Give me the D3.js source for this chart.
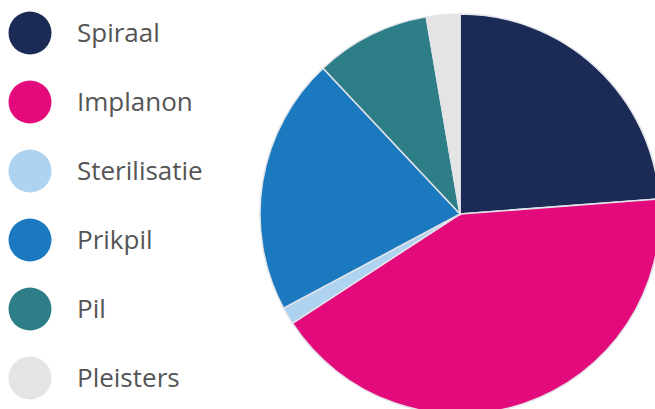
<!DOCTYPE html>
<html>
<head>
<meta charset="utf-8">
<script src="https://cdn.jsdelivr.net/npm/d3@7"></script>
<style>
  body { margin: 0; background: #fff; }
  svg { display: block; }
</style>
</head>
<body>
<svg width="655" height="409"></svg>
<script>
// methods and share (%)
var labels = ["Spiraal", "Implanon", "Sterilisatie", "Prikpil", "Pil", "Pleisters"];
var values = [23.8, 42.0, 1.4, 20.8, 9.3, 2.7];
var colors = ["#1b2b55", "#e30a7c", "#aed3f0", "#1a79bf", "#2e7e88", "#e4e4e4"];

var svg = d3.select("svg");

var color = d3.scaleOrdinal().domain(labels).range(colors);

var pie = d3.pie().sort(null).value(function (d) { return d.value; });
var arc = d3.arc().innerRadius(0).outerRadius(200);

var data = labels.map(function (l, i) { return { label: l, value: values[i] }; });

var g = svg.append("g")
  .attr("transform", "translate(460,214)");

g.selectAll("path")
  .data(pie(data))
  .enter()
  .append("path")
  .attr("d", arc)
  .style("fill", function (d) { return color(d.data.label); })
  .style("stroke", "#e2e4ea")
  .style("stroke-width", 1.5);

// legend
var y = d3.scalePoint().domain(labels).range([33, 378]);

var legend = svg.append("g");

legend.selectAll("circle")
  .data(labels)
  .enter()
  .append("circle")
  .attr("cx", 30)
  .attr("cy", function (d) { return y(d); })
  .attr("r", 21.5)
  .style("fill", function (d) { return color(d); });

legend.selectAll("text")
  .data(labels)
  .enter()
  .append("text")
  .attr("x", 77)
  .attr("y", function (d) { return y(d); })
  .attr("dy", "0.35em")
  .style("font-family", "'Open Sans', sans-serif")
  .style("font-size", "26px")
  .style("fill", "#555")
  .text(function (d) { return d; });
</script>
</body>
</html>
